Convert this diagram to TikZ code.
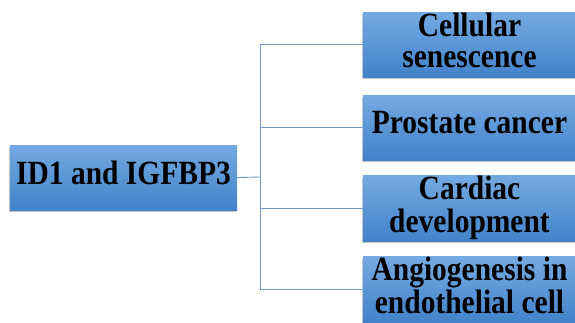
\documentclass[tikz,border=0pt]{standalone}
\usepackage{fontspec}
\setmainfont{Liberation Serif}
\usetikzlibrary{shadows}
\definecolor{boxtop}{HTML}{74AAE2}
\definecolor{boxbot}{HTML}{4282CA}
\definecolor{linec}{HTML}{7098C4}
\newcommand{\vtxt}[1]{\scalebox{1}[1.15]{\begin{tabular}{@{}c@{}}#1\end{tabular}}}
\tikzset{
  boxstyle/.style={top color=boxtop, bottom color=boxbot, draw=none, inner sep=0pt,
    drop shadow={shadow xshift=-1pt, shadow yshift=-2pt, fill=black!45, opacity=.5},
    font=\rmfamily\bfseries\fontsize{29.5}{27}\selectfont},
  rootbox/.style={boxstyle, minimum width=227pt, minimum height=65pt},
  leafbox/.style={boxstyle, minimum width=213pt, minimum height=65pt},
  conn/.style={draw=linec, line width=0.9pt}
}
\begin{document}
\begin{tikzpicture}[x=1pt,y=-1pt]
\useasboundingbox (0,0) rectangle (575,322);
\node[rootbox] (root) at (123.5,177.5) {\vtxt{ID1 and IGFBP3}};
\node[leafbox] (c1) at (469.5,44.5) {\vtxt{Cellular\\senescence}};
\node[leafbox] (c2) at (469.5,127.5) {\vtxt{Prostate cancer}};
\node[leafbox] (c3) at (469.5,208.5) {\vtxt{Cardiac\\development}};
\node[leafbox] (c4) at (469.5,289.5) {\vtxt{Angiogenesis in\\endothelial cell}};
\coordinate (j) at (260,177);
\draw[conn] (root.east) -- (j);
\draw[conn] (j |- c1.west) -- (j |- c4.west);
\foreach \c in {c1,c2,c3,c4} {
  \draw[conn] (j |- \c.west) -- (\c.west);
}
\end{tikzpicture}
\end{document}
